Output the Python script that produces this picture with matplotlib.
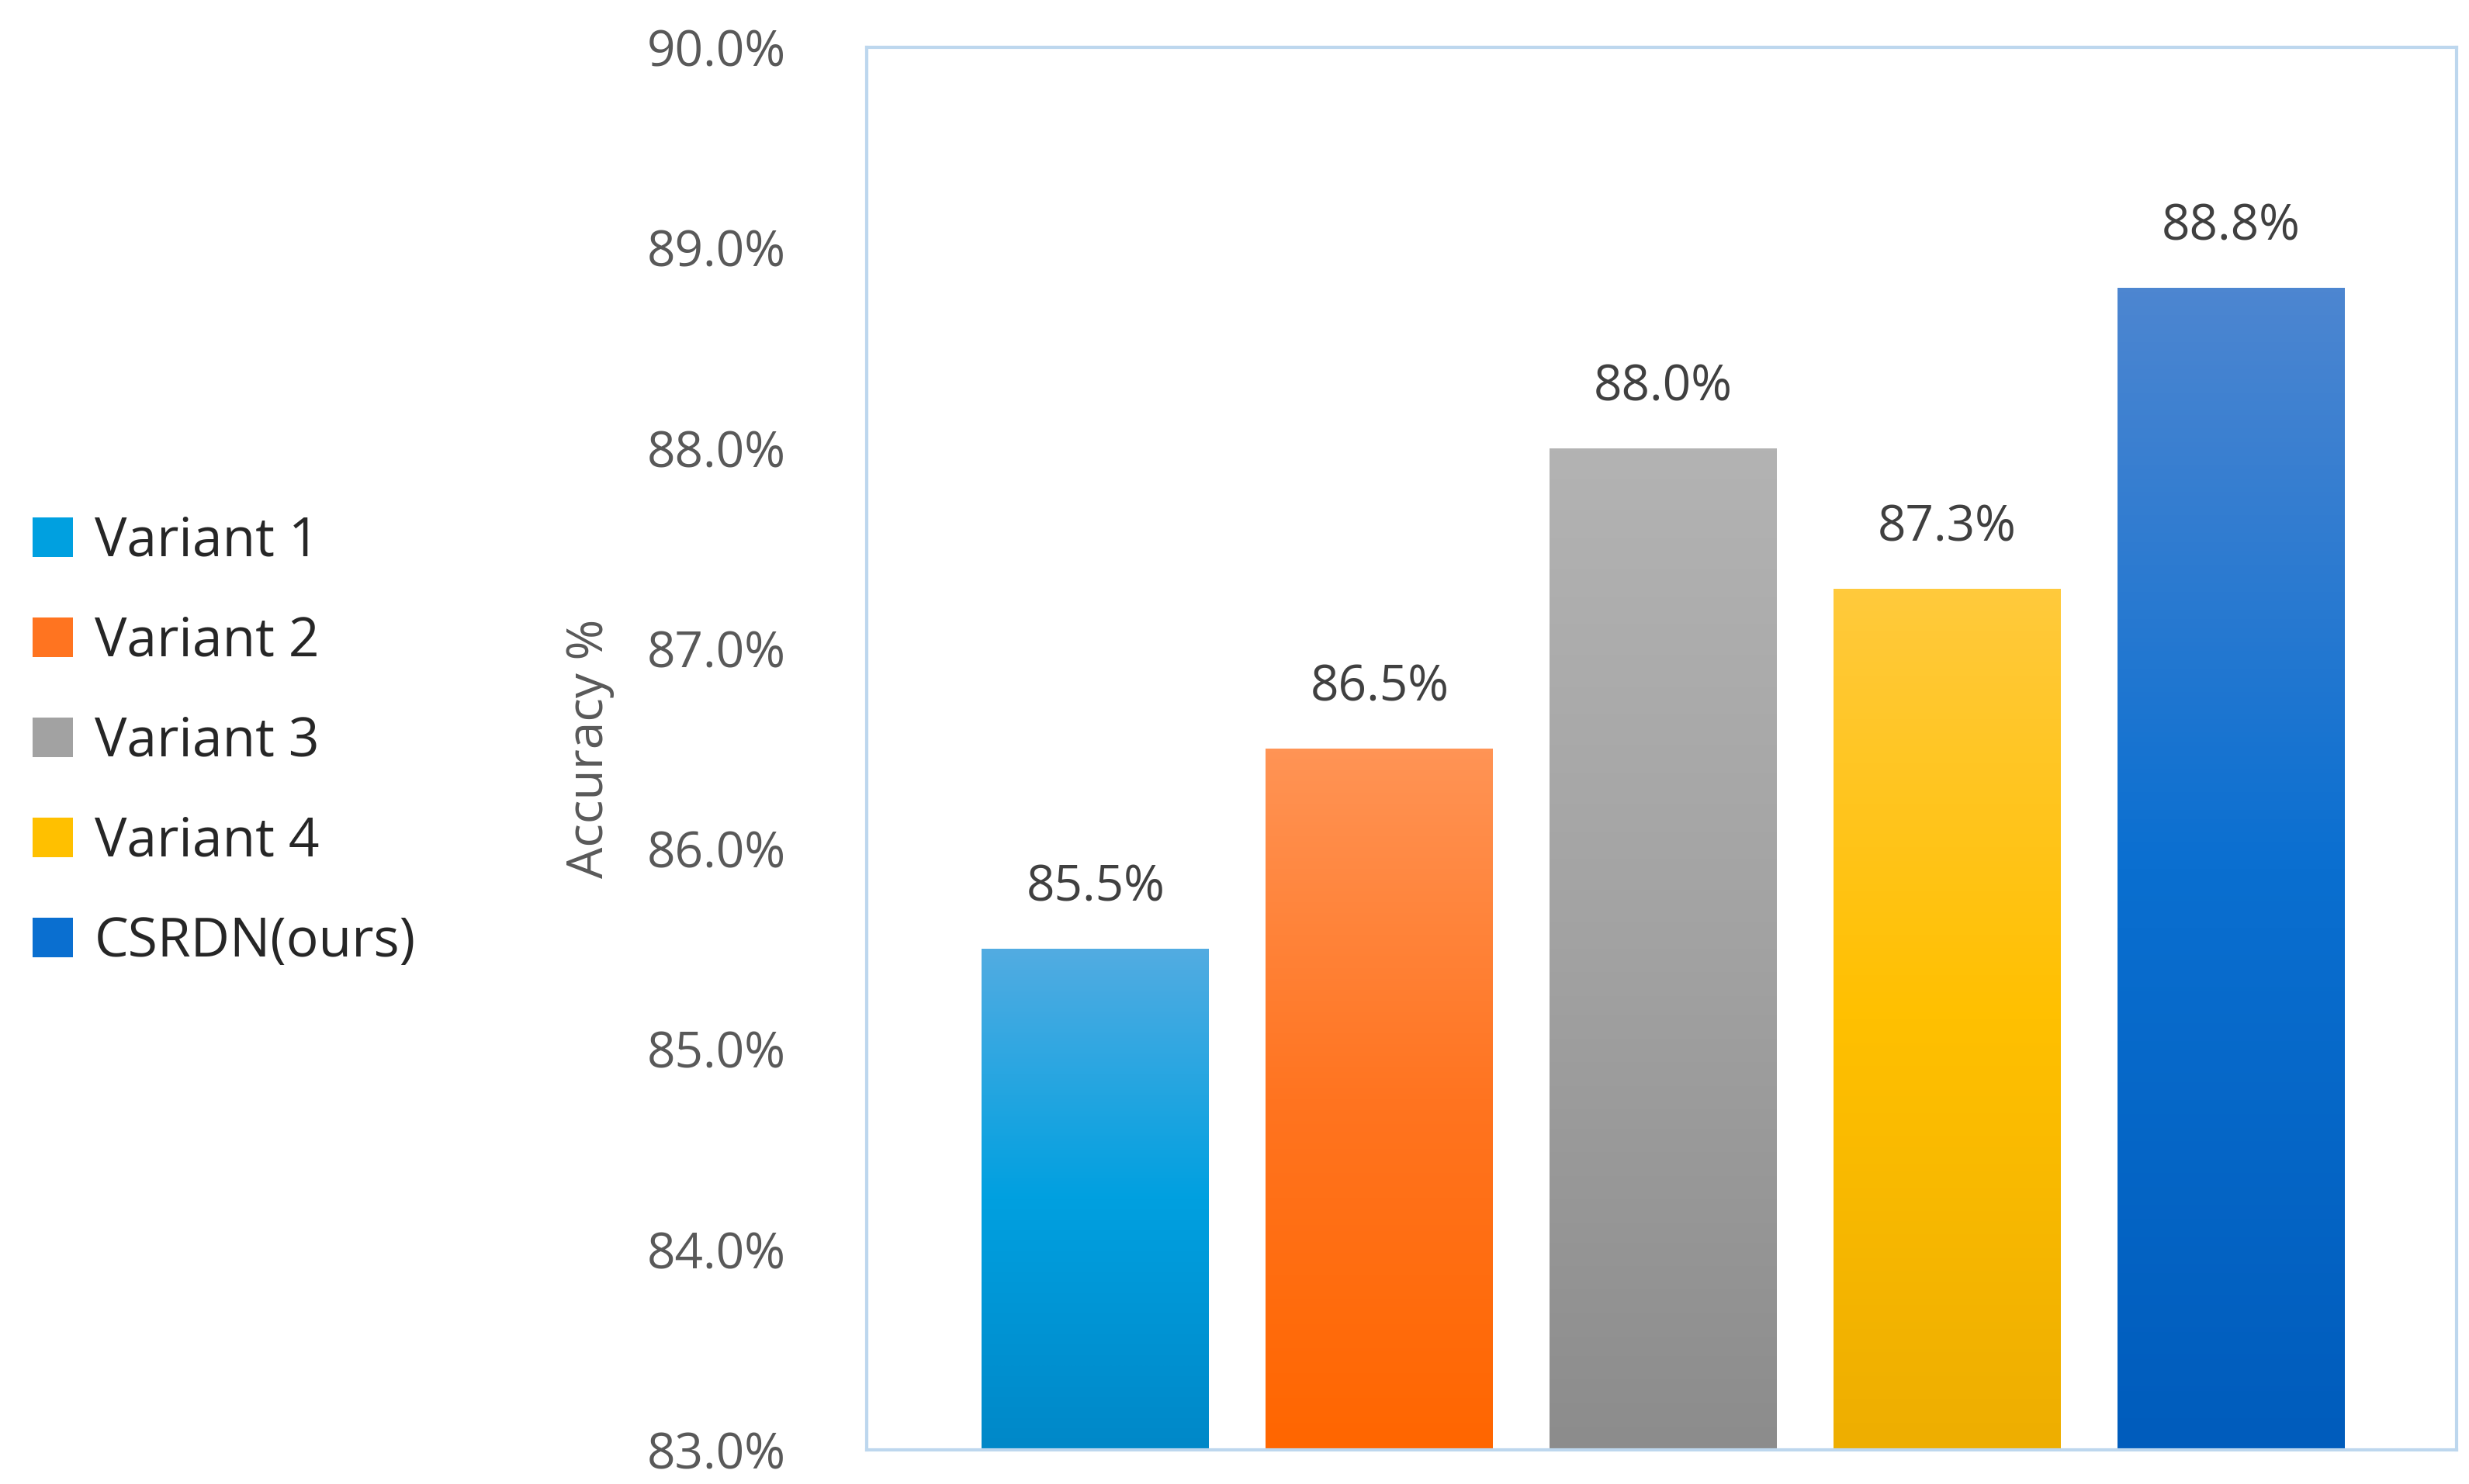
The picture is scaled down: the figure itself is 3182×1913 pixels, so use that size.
import numpy as np
import matplotlib
matplotlib.use('Agg')
import matplotlib.pyplot as plt
from matplotlib.colors import LinearSegmentedColormap
from matplotlib.patches import Patch

labels = ["Variant 1", "Variant 2", "Variant 3", "Variant 4", "CSRDN(ours)"]
values = [85.5, 86.5, 88.0, 87.3, 88.8]
tops = ["#52ace2", "#ff9455", "#b3b3b3", "#ffca3c", "#4d86d0"]
mids = ["#00a0e0", "#ff7420", "#a2a2a2", "#ffc000", "#0a6fd0"]
bottoms = ["#0088c8", "#ff6600", "#8c8c8c", "#eeae00", "#005cbc"]
yticks = [83, 84, 85, 86, 87, 88, 89, 90]

plt.rcParams['font.family'] = ['Open Sans', 'DejaVu Sans']
grey = "#595959"

fig = plt.figure(figsize=(31.82, 19.13), dpi=100)
ax = fig.add_axes([0.351, 0.023, 0.644, 0.945])
ax.set_xlim(-0.806, 4.794)
ax.set_ylim(83, 90)

x = np.arange(len(values))
bars = ax.bar(x, values, width=0.8, bottom=0, color="none", edgecolor="none")
grad = np.linspace(0, 1, 256).reshape(-1, 1)
for b, v, t, m, bt in zip(bars, values, tops, mids, bottoms):
    cmap = LinearSegmentedColormap.from_list("g", [bt, m, t])
    x0 = b.get_x()
    im = ax.imshow(grad, cmap=cmap, origin="lower", aspect="auto",
                   extent=[x0, x0 + b.get_width(), 83, v], zorder=2)
    im.set_clip_path(b)
    ax.text(x0 + b.get_width() / 2, v + 0.18, f"{v:.1f}%", ha="center",
            va="bottom", fontsize=46, color="#404040")

ax.set_xticks([])
ax.set_yticks(yticks)
ax.set_yticklabels([f"{t:.1f}%" for t in yticks], fontsize=46, color=grey)
ax.tick_params(axis="y", length=0, pad=75)
for s in ax.spines.values():
    s.set_color("#bdd7ee")
    s.set_linewidth(3)
ax.set_ylabel("Accuracy %", fontsize=46, color=grey, labelpad=30)

handles = [Patch(facecolor=m, edgecolor="none") for m in mids]
fig.legend(handles, labels, loc="center left", bbox_to_anchor=(0.0, 0.5),
           frameon=False, fontsize=50, labelcolor="#262626",
           handlelength=0.75, handleheight=0.75, handletextpad=0.4,
           labelspacing=0.85, borderaxespad=0.2)

fig.savefig("out.png", dpi=100)
